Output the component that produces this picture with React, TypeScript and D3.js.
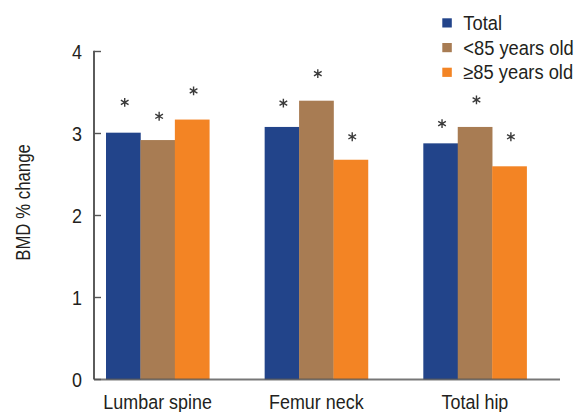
import React from "react";
import * as d3 from "d3";

const categories = ["Lumbar spine", "Femur neck", "Total hip"];
const seriesNames = ["Total", "<85 years old", "≥85 years old"];
const seriesColors = ["#22448A", "#A87C53", "#F38424"];
const totalValues = [3.01, 3.08, 2.88];
const under85Values = [2.92, 3.4, 3.08];
const over85Values = [3.17, 2.68, 2.6];
const asteriskTotal = [3.38, 3.37, 3.12];
const asteriskUnder85 = [3.21, 3.73, 3.41];
const asteriskOver85 = [3.52, 2.96, 2.96];
const yTicks = [0, 1, 2, 3, 4];
const yTitle = "BMD % change";

const W = 577;
const H = 412;
const FONT = "'Liberation Sans', Arial, sans-serif";

function CText(props: {
  x: number;
  y: number;
  anchor?: "start" | "middle" | "end";
  size: number;
  sx: number;
  rotate?: number;
  dy?: string;
  children: React.ReactNode;
}) {
  const { x, y, anchor = "start", size, sx, rotate = 0, dy, children } = props;
  return (
    <g transform={`translate(${x},${y}) rotate(${rotate}) scale(${sx},1)`}>
      <text x={0} y={0} dy={dy} textAnchor={anchor} fontFamily={FONT} fontSize={size} fill="#231f20">
        {children}
      </text>
    </g>
  );
}

export default function App() {
  const values = [totalValues, under85Values, over85Values];
  const stars = [asteriskTotal, asteriskUnder85, asteriskOver85];

  const y = d3.scaleLinear().domain([0, 4]).range([379.5, 51.5]);
  const x0 = d3.scaleBand<string>().domain(categories).range([106, 526.6]).paddingInner(0.349).paddingOuter(0);
  const x1 = d3.scaleBand<string>().domain(seriesNames).range([0, x0.bandwidth()]).padding(0);
  const star = d3.symbol().type(d3.symbolAsterisk).size(55)() as string;

  const axisX = 94;
  const xEnd = 560;

  return (
    <svg width={W} height={H} style={{ position: "absolute", left: 0, top: 0, background: "#fff" }}>
      {categories.map((c, ci) => (
        <g key={c} transform={`translate(${x0(c)},0)`}>
          {seriesNames.map((s, si) => (
            <rect
              key={s}
              x={x1(s)}
              y={y(values[si][ci])}
              width={x1.bandwidth() + 0.3}
              height={y(0) - y(values[si][ci])}
              fill={seriesColors[si]}
            />
          ))}
          {seriesNames.map((s, si) => (
            <path
              key={"st" + s}
              d={star}
              transform={`translate(${(x1(s) as number) + x1.bandwidth() / 2 + 1.5},${y(stars[si][ci])})`}
              stroke="#3a3a3a"
              strokeWidth={1.4}
              fill="none"
            />
          ))}
        </g>
      ))}

      <line x1={axisX} x2={xEnd} y1={y(0)} y2={y(0)} stroke="#555" strokeOpacity={0.8} strokeWidth={2} />

      <line x1={axisX} x2={axisX} y1={y(4) - 0.8} y2={y(0)} stroke="#333" strokeWidth={1.6} />
      {yTicks.map((t) => (
        <g key={t}>
          <line x1={axisX} x2={axisX + 7} y1={y(t)} y2={y(t)} stroke="#555" strokeWidth={1.4} />
          <CText x={axisX - 12} y={y(t)} dy="0.36em" anchor="end" size={19.5} sx={0.92}>
            {t}
          </CText>
        </g>
      ))}

      <CText x={30} y={202.5} rotate={-90} anchor="middle" size={20} sx={0.84}>
        {yTitle}
      </CText>

      {categories.map((c) => (
        <CText key={c} x={(x0(c) as number) + x0.bandwidth() / 2} y={408.5} anchor="middle" size={19.5} sx={0.92}>
          {c}
        </CText>
      ))}

      {seriesNames.map((s, i) => (
        <g key={s} transform={`translate(442.3,${18.3 + i * 24.7})`}>
          <rect width={9.5} height={9.2} fill={seriesColors[i]} />
          <CText x={21} y={4.6} dy="0.36em" size={19.5} sx={0.94}>
            {s}
          </CText>
        </g>
      ))}
    </svg>
  );
}
